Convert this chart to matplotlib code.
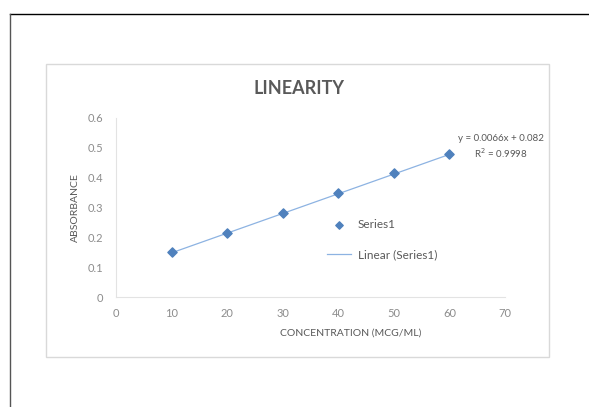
import numpy as np
import matplotlib
matplotlib.use("Agg")
import matplotlib.pyplot as plt
from matplotlib.lines import Line2D
from matplotlib.patches import Rectangle

plt.rcParams['font.family'] = ['Lato', 'DejaVu Sans']

# concentration (mcg/ml) vs absorbance
concentration = [10, 20, 30, 40, 50, 60]
absorbance = [0.150, 0.215, 0.280, 0.350, 0.415, 0.480]
slope = 0.0066
intercept = 0.082
r_squared = 0.9998
x_ticks = [0, 10, 20, 30, 40, 50, 60, 70]
y_ticks = [0, 0.1, 0.2, 0.3, 0.4, 0.5, 0.6]

W, H = 589, 407
fig = plt.figure(figsize=(W / 100, H / 100), dpi=100)
fig.patch.set_facecolor('white')


def fx(px):
    return px / W


def fy(py):
    return 1 - py / H


# page frame (top and left edges)
fig.add_artist(Line2D([fx(10), 1.0], [fy(14), fy(14)],
                      transform=fig.transFigure, color='black', lw=1.0))
fig.add_artist(Line2D([fx(10), fx(10)], [0, fy(14)],
                      transform=fig.transFigure, color='#555555', lw=1.0))

# chart area border
fig.add_artist(Rectangle((fx(46), fy(357)), fx(549 - 46), (357 - 64) / H,
                         transform=fig.transFigure, facecolor='none',
                         edgecolor='#d9d9d9', lw=1.0))

ax = fig.add_axes([fx(116), fy(297), fx(505 - 116), (297 - 118) / H])

ax.scatter(concentration, absorbance, marker='D', s=22, color='#4f81bd',
           zorder=3, label='Series1')

fit_x = np.array([concentration[0], concentration[-1]])
fit_y = slope * fit_x + intercept
ax.plot(fit_x, fit_y, color='#8db3e2', lw=0.9, label='Linear (Series1)', zorder=2)

ax.set_xlim(0, 70)
ax.set_ylim(0, 0.6)
ax.set_xticks(x_ticks)
ax.set_yticks(y_ticks)
ax.set_xticklabels([str(v) for v in x_ticks])
ax.set_yticklabels([f'{v:g}' for v in y_ticks])
ax.tick_params(length=0, labelsize=8, colors='#8c8c8c')
ax.tick_params(axis='x', pad=8)
ax.tick_params(axis='y', pad=9)

for side in ['top', 'right']:
    ax.spines[side].set_visible(False)
for side in ['left', 'bottom']:
    ax.spines[side].set_color('#e3e3e3')
    ax.spines[side].set_linewidth(0.8)

fig.text(fx(299), fy(89), 'LINEARITY', fontsize=13, fontweight='bold',
         color='#595959', ha='center', va='center')
fig.text(fx(351), fy(333), 'CONCENTRATION (MCG/ML)', fontsize=7.5,
         color='#595959', ha='center', va='center')
fig.text(fx(75), fy(208), 'ABSORBANCE', fontsize=7.5, rotation=90,
         color='#595959', ha='center', va='center')

ax.text(69.3, 0.503, f'y = {slope}x + {intercept}\nR$^2$ = {r_squared}',
        fontsize=7, color='#595959', ha='center', va='center', linespacing=1.3)

leg = ax.legend(loc='upper left', bbox_to_anchor=(fx(327), fy(219)),
                bbox_transform=fig.transFigure, frameon=False,
                fontsize=8.5, labelcolor='#595959', handlelength=2.0,
                handletextpad=0.6, labelspacing=1.6, borderpad=0,
                borderaxespad=0, markerscale=0.8)

fig.savefig('out.png', dpi=100)
